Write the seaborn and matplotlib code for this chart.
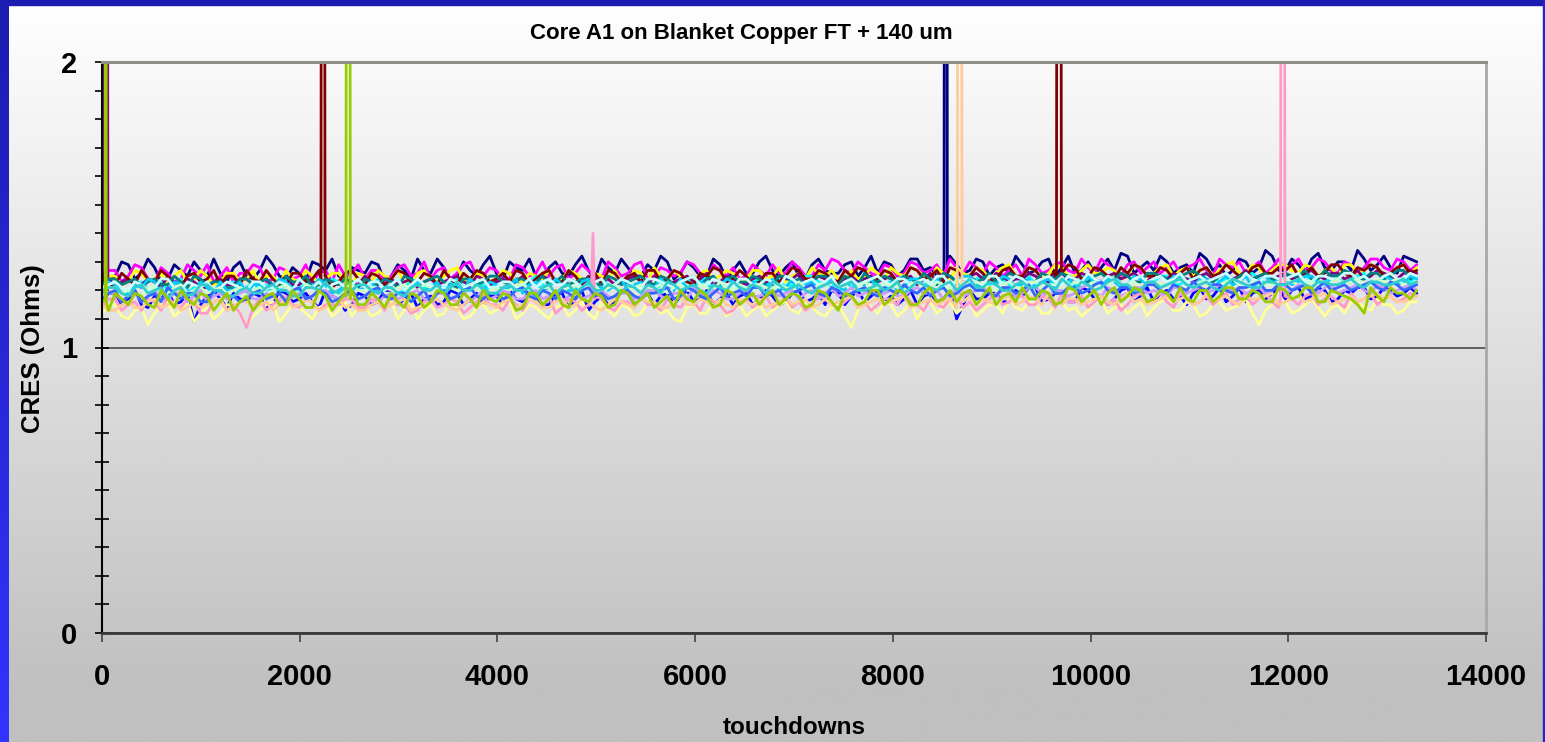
import numpy as np
import pandas as pd
import matplotlib
matplotlib.use("Agg")
import matplotlib.pyplot as plt
import seaborn as sns
from matplotlib.colors import LinearSegmentedColormap
from matplotlib.patches import Rectangle

# ---------------- data ----------------
touchdowns = list(range(0, 13301, 133))      # readings A
touchdowns_mid = list(range(66, 13300, 133))  # readings B (in between)

navy = [1.27,1.25,1.29,1.26,1.28,1.24,1.27,1.30,1.25,1.26,
        1.28,1.25,1.27,1.29,1.24,1.26,1.30,1.27,1.25,1.28,
        1.26,1.29,1.25,1.27,1.31,1.26,1.28,1.25,1.27,1.29,
        1.26,1.30,1.27,1.25,1.28,1.26,1.29,1.27,1.31,1.26,
        1.28,1.25,1.27,1.30,1.26,1.28,1.25,1.29,1.27,1.26,
        1.30,1.27,1.28,1.25,1.29,1.27,1.26,1.30,1.28,1.26,
        1.29,1.27,1.31,1.28,1.26,1.29,1.27,1.30,1.28,1.26,
        1.29,1.27,1.31,1.28,1.26,1.30,1.28,1.27,1.32,1.28,
        1.27,1.30,1.28,1.26,1.31,1.29,1.27,1.30,1.28,1.32,
        1.27,1.29,1.31,1.28,1.30,1.27,1.31,1.29,1.28,1.32,
        1.30]
navy_mid = [1.23,1.30,1.24,1.31,1.23,1.29,1.25,1.27,1.31,1.23,
            1.30,1.24,1.32,1.25,1.28,1.23,1.29,1.31,1.24,1.27,
            1.30,1.23,1.29,1.24,1.27,1.31,1.24,1.30,1.25,1.32,
            1.24,1.28,1.31,1.24,1.30,1.25,1.32,1.24,1.28,1.31,
            1.25,1.29,1.32,1.24,1.30,1.25,1.31,1.24,1.30,1.26,
            1.32,1.25,1.30,1.24,1.31,1.26,1.29,1.25,1.32,1.30,
            1.25,1.31,1.27,1.25,1.32,1.26,1.31,1.25,1.29,1.32,
            1.26,1.30,1.25,1.32,1.27,1.26,1.31,1.33,1.26,1.30,
            1.32,1.26,1.29,1.33,1.27,1.25,1.31,1.26,1.34,1.27,
            1.31,1.26,1.33,1.27,1.30,1.34,1.27,1.32,1.26,1.31]
magenta = [1.24,1.27,1.25,1.28,1.23,1.26,1.24,1.27,1.29,1.25,
           1.23,1.26,1.28,1.24,1.27,1.25,1.23,1.27,1.29,1.26,
           1.24,1.27,1.25,1.29,1.26,1.24,1.28,1.26,1.30,1.25,
           1.27,1.24,1.28,1.26,1.25,1.29,1.26,1.27,1.24,1.28,
           1.26,1.30,1.25,1.27,1.26,1.29,1.24,1.27,1.28,1.25,
           1.27,1.29,1.26,1.28,1.25,1.27,1.30,1.26,1.28,1.25,
           1.28,1.26,1.29,1.27,1.25,1.28,1.30,1.26,1.28,1.27,
           1.25,1.29,1.27,1.30,1.26,1.28,1.31,1.27,1.29,1.26,
           1.30,1.28,1.26,1.29,1.27,1.31,1.28,1.26,1.30,1.28,
           1.27,1.31,1.28,1.30,1.26,1.29,1.28,1.31,1.27,1.30,
           1.29]
magenta_mid = [1.27,1.23,1.29,1.24,1.28,1.23,1.29,1.25,1.23,1.28,
               1.26,1.29,1.23,1.28,1.24,1.29,1.26,1.23,1.25,1.29,
               1.27,1.23,1.28,1.25,1.30,1.27,1.24,1.29,1.25,1.28,
               1.24,1.29,1.25,1.30,1.28,1.24,1.29,1.25,1.30,1.25,
               1.29,1.24,1.28,1.25,1.30,1.26,1.29,1.25,1.24,1.29,
               1.25,1.26,1.30,1.25,1.29,1.31,1.27,1.30,1.26,1.29,
               1.25,1.30,1.26,1.29,1.31,1.26,1.28,1.30,1.25,1.29,
               1.31,1.26,1.29,1.27,1.31,1.26,1.29,1.25,1.30,1.28,
               1.26,1.30,1.28,1.31,1.25,1.29,1.30,1.28,1.26,1.31,
               1.29,1.27,1.31,1.27,1.30,1.26,1.31,1.28,1.31,1.27]
yellow = [1.22,1.25,1.23,1.26,1.24,1.22,1.27,1.24,1.25,1.23,
          1.26,1.24,1.22,1.25,1.27,1.23,1.25,1.24,1.26,1.22,
          1.25,1.27,1.24,1.23,1.26,1.24,1.25,1.28,1.23,1.25,
          1.24,1.26,1.23,1.25,1.27,1.24,1.26,1.23,1.25,1.27,
          1.24,1.26,1.28,1.24,1.25,1.23,1.27,1.25,1.26,1.24,
          1.27,1.25,1.23,1.26,1.28,1.25,1.24,1.27,1.25,1.26,
          1.28,1.25,1.27,1.24,1.26,1.28,1.25,1.27,1.26,1.29,
          1.25,1.27,1.26,1.28,1.25,1.29,1.26,1.27,1.25,1.28,
          1.26,1.29,1.27,1.25,1.28,1.27,1.30,1.26,1.28,1.27,
          1.29,1.26,1.28,1.27,1.25,1.29,1.27,1.28,1.26,1.29,
          1.28]
yellow_mid = [1.25,1.22,1.27,1.23,1.26,1.25,1.23,1.27,1.22,1.26,
              1.23,1.27,1.25,1.22,1.24,1.27,1.22,1.26,1.23,1.26,
              1.23,1.25,1.27,1.22,1.27,1.23,1.27,1.24,1.26,1.23,
              1.27,1.23,1.26,1.24,1.23,1.27,1.24,1.26,1.24,1.23,
              1.27,1.23,1.25,1.27,1.23,1.26,1.24,1.27,1.23,1.27,
              1.24,1.28,1.25,1.24,1.26,1.27,1.23,1.24,1.28,1.24,
              1.26,1.28,1.25,1.28,1.24,1.26,1.28,1.24,1.28,1.25,
              1.28,1.24,1.29,1.25,1.27,1.26,1.28,1.24,1.29,1.25,
              1.28,1.25,1.28,1.27,1.25,1.29,1.26,1.29,1.25,1.29,
              1.27,1.29,1.25,1.28,1.29,1.26,1.29,1.25,1.28,1.26]
cyan = [1.20,1.22,1.19,1.23,1.21,1.20,1.24,1.21,1.22,1.19,
        1.23,1.21,1.20,1.22,1.24,1.20,1.22,1.21,1.23,1.20,
        1.22,1.24,1.21,1.20,1.23,1.22,1.21,1.24,1.20,1.22,
        1.23,1.21,1.22,1.25,1.21,1.23,1.20,1.22,1.24,1.21,
        1.23,1.22,1.20,1.24,1.22,1.21,1.25,1.22,1.23,1.21,
        1.24,1.22,1.21,1.23,1.25,1.22,1.23,1.21,1.24,1.22,
        1.23,1.25,1.22,1.21,1.24,1.23,1.22,1.25,1.23,1.22,
        1.24,1.22,1.25,1.23,1.21,1.24,1.23,1.26,1.22,1.24,
        1.23,1.25,1.22,1.24,1.26,1.23,1.22,1.25,1.24,1.23,
        1.26,1.23,1.24,1.22,1.25,1.24,1.26,1.23,1.25,1.24,
        1.25]
cyan_mid = [1.23,1.19,1.22,1.20,1.23,1.22,1.19,1.23,1.20,1.22,
            1.20,1.23,1.22,1.19,1.21,1.23,1.20,1.24,1.21,1.22,
            1.20,1.22,1.19,1.24,1.21,1.20,1.23,1.21,1.23,1.20,
            1.24,1.20,1.23,1.22,1.24,1.21,1.23,1.21,1.22,1.24,
            1.21,1.24,1.22,1.21,1.24,1.23,1.21,1.24,1.22,1.23,
            1.21,1.24,1.22,1.25,1.23,1.21,1.24,1.22,1.25,1.21,
            1.24,1.22,1.24,1.23,1.25,1.21,1.24,1.22,1.24,1.21,
            1.25,1.23,1.22,1.24,1.25,1.22,1.24,1.22,1.25,1.23,
            1.25,1.22,1.24,1.23,1.25,1.24,1.23,1.26,1.22,1.25,
            1.23,1.25,1.23,1.26,1.22,1.25,1.23,1.26,1.24,1.23]
purple = [1.23,1.21,1.24,1.22,1.23,1.25,1.22,1.23,1.21,1.24,
          1.22,1.24,1.23,1.21,1.25,1.22,1.23,1.24,1.22,1.23,
          1.25,1.22,1.24,1.23,1.21,1.24,1.23,1.25,1.22,1.24,
          1.23,1.22,1.25,1.23,1.24,1.22,1.23,1.25,1.23,1.22,
          1.24,1.23,1.25,1.22,1.24,1.23,1.26,1.23,1.24,1.22,
          1.25,1.23,1.24,1.26,1.23,1.24,1.22,1.25,1.24,1.23,
          1.25,1.24,1.22,1.26,1.24,1.23,1.25,1.24,1.26,1.23,
          1.24,1.25,1.23,1.26,1.24,1.25,1.23,1.26,1.25,1.24,
          1.26,1.24,1.25,1.23,1.26,1.25,1.24,1.27,1.25,1.24,
          1.26,1.25,1.27,1.24,1.26,1.25,1.24,1.27,1.25,1.26,
          1.26]
purple_mid = [1.24,1.23,1.22,1.24,1.21,1.23,1.24,1.21,1.23,1.22,
              1.24,1.22,1.24,1.23,1.22,1.24,1.22,1.23,1.24,1.22,
              1.23,1.24,1.22,1.24,1.23,1.22,1.24,1.23,1.25,1.22,
              1.24,1.23,1.22,1.25,1.23,1.24,1.22,1.24,1.24,1.23,
              1.25,1.22,1.24,1.23,1.25,1.24,1.22,1.25,1.23,1.24,
              1.23,1.25,1.24,1.22,1.25,1.23,1.24,1.23,1.25,1.24,
              1.23,1.25,1.24,1.23,1.25,1.24,1.26,1.23,1.25,1.24,
              1.26,1.23,1.25,1.24,1.26,1.24,1.25,1.24,1.26,1.23,
              1.25,1.26,1.24,1.25,1.24,1.26,1.25,1.24,1.26,1.25,
              1.24,1.26,1.25,1.26,1.24,1.27,1.25,1.26,1.24,1.27]
darkred = [1.25,1.22,1.24,1.27,1.23,1.25,1.21,1.26,1.24,1.22,
           1.25,1.27,1.23,1.24,1.22,1.26,1.24,1.25,1.23,1.27,
           1.22,1.25,1.24,1.26,1.23,1.25,1.27,1.22,1.24,1.26,
           1.24,1.23,1.26,1.24,1.27,1.23,1.25,1.24,1.22,1.26,
           1.25,1.23,1.27,1.24,1.26,1.22,1.25,1.27,1.24,1.25,
           1.23,1.26,1.25,1.27,1.24,1.26,1.23,1.25,1.27,1.24,
           1.26,1.24,1.27,1.25,1.23,1.27,1.25,1.26,1.24,1.28,
           1.25,1.27,1.24,1.26,1.28,1.25,1.27,1.24,1.26,1.28,
           1.25,1.27,1.26,1.24,1.28,1.26,1.27,1.25,1.29,1.26,
           1.27,1.25,1.28,1.26,1.29,1.25,1.27,1.28,1.26,1.29,
           1.27]
darkred_mid = [1.21,1.26,1.22,1.24,1.27,1.21,1.25,1.23,1.27,1.25,
               1.22,1.24,1.27,1.22,1.26,1.23,1.27,1.21,1.26,1.24,
               1.26,1.22,1.27,1.23,1.26,1.22,1.24,1.26,1.27,1.23,
               1.26,1.27,1.22,1.26,1.23,1.27,1.22,1.26,1.27,1.23,
               1.26,1.27,1.23,1.27,1.23,1.26,1.28,1.23,1.27,1.22,
               1.26,1.23,1.28,1.24,1.27,1.24,1.27,1.28,1.23,1.27,
               1.23,1.28,1.24,1.27,1.28,1.24,1.28,1.23,1.27,1.25,
               1.28,1.24,1.27,1.29,1.24,1.28,1.25,1.28,1.29,1.25,
               1.28,1.24,1.28,1.27,1.25,1.29,1.25,1.28,1.26,1.28,
               1.29,1.26,1.25,1.29,1.26,1.28,1.29,1.25,1.28,1.26]
teal = [1.22,1.24,1.23,1.21,1.24,1.22,1.23,1.25,1.22,1.23,
        1.21,1.24,1.23,1.22,1.25,1.23,1.21,1.24,1.22,1.23,
        1.24,1.22,1.23,1.25,1.22,1.24,1.23,1.21,1.24,1.23,
        1.25,1.22,1.24,1.23,1.22,1.25,1.23,1.24,1.22,1.24,
        1.23,1.25,1.22,1.24,1.23,1.25,1.24,1.22,1.25,1.23,
        1.24,1.22,1.25,1.24,1.23,1.25,1.22,1.24,1.26,1.23,
        1.24,1.25,1.23,1.24,1.26,1.23,1.25,1.24,1.23,1.26,
        1.24,1.23,1.25,1.26,1.24,1.23,1.26,1.24,1.25,1.23,
        1.26,1.24,1.25,1.27,1.24,1.25,1.23,1.26,1.25,1.24,
        1.26,1.25,1.24,1.27,1.25,1.26,1.24,1.26,1.25,1.27,
        1.25]
teal_mid = [1.24,1.22,1.24,1.23,1.22,1.25,1.21,1.24,1.23,1.21,
            1.24,1.22,1.24,1.21,1.23,1.25,1.22,1.23,1.24,1.21,
            1.23,1.24,1.21,1.24,1.23,1.25,1.22,1.24,1.22,1.25,
            1.23,1.24,1.22,1.25,1.23,1.22,1.24,1.22,1.25,1.22,
            1.24,1.23,1.25,1.22,1.24,1.22,1.25,1.24,1.23,1.25,
            1.22,1.25,1.23,1.22,1.25,1.23,1.25,1.22,1.24,1.25,
            1.23,1.24,1.26,1.22,1.25,1.24,1.23,1.26,1.24,1.25,
            1.23,1.26,1.24,1.25,1.23,1.25,1.24,1.26,1.23,1.26,
            1.25,1.23,1.26,1.25,1.23,1.26,1.25,1.24,1.26,1.23,
            1.25,1.27,1.24,1.25,1.27,1.24,1.26,1.24,1.27,1.24]
blue = [1.16,1.19,1.17,1.15,1.18,1.20,1.16,1.09,1.18,1.17,
        1.19,1.16,1.18,1.15,1.19,1.17,1.16,1.20,1.17,1.15,
        1.18,1.16,1.19,1.17,1.14,1.18,1.16,1.19,1.17,1.15,
        1.18,1.20,1.16,1.18,1.15,1.19,1.17,1.13,1.18,1.16,
        1.19,1.17,1.15,1.19,1.18,1.16,1.20,1.17,1.15,1.19,
        1.17,1.18,1.16,1.20,1.17,1.15,1.19,1.18,1.16,1.20,
        1.18,1.17,1.15,1.19,1.17,1.10,1.20,1.17,1.19,1.16,
        1.18,1.21,1.17,1.19,1.16,1.20,1.18,1.17,1.21,1.18,
        1.16,1.20,1.18,1.19,1.17,1.21,1.18,1.16,1.20,1.19,
        1.17,1.21,1.18,1.20,1.17,1.19,1.21,1.18,1.20,1.19,
        1.19]
blue_mid = [1.19,1.15,1.20,1.14,1.17,1.15,1.19,1.15,1.20,1.14,
            1.17,1.19,1.14,1.20,1.16,1.19,1.14,1.18,1.13,1.19,
            1.15,1.20,1.15,1.19,1.17,1.15,1.20,1.15,1.19,1.18,
            1.15,1.17,1.20,1.15,1.19,1.14,1.20,1.16,1.15,1.20,
            1.15,1.19,1.18,1.15,1.20,1.17,1.15,1.19,1.18,1.15,
            1.20,1.15,1.19,1.16,1.19,1.20,1.15,1.20,1.18,1.16,
            1.15,1.20,1.18,1.16,1.20,1.15,1.17,1.19,1.16,1.20,
            1.21,1.16,1.19,1.16,1.21,1.17,1.15,1.20,1.16,1.21,
            1.19,1.17,1.15,1.21,1.18,1.16,1.21,1.19,1.17,1.21,
            1.20,1.17,1.21,1.16,1.20,1.21,1.17,1.21,1.18,1.21]
skyblue = [1.20,1.22,1.19,1.21,1.23,1.20,1.22,1.18,1.21,1.23,
           1.20,1.19,1.22,1.21,1.23,1.19,1.21,1.22,1.20,1.23,
           1.21,1.19,1.22,1.20,1.23,1.21,1.19,1.22,1.24,1.20,
           1.22,1.21,1.19,1.23,1.21,1.22,1.20,1.24,1.21,1.22,
           1.20,1.23,1.21,1.22,1.24,1.20,1.22,1.21,1.23,1.20,
           1.22,1.24,1.21,1.20,1.23,1.22,1.21,1.24,1.22,1.20,
           1.23,1.21,1.24,1.22,1.21,1.23,1.25,1.21,1.22,1.24,
           1.22,1.21,1.24,1.23,1.21,1.25,1.22,1.23,1.21,1.24,
           1.23,1.22,1.25,1.21,1.24,1.23,1.22,1.25,1.23,1.22,
           1.24,1.23,1.25,1.22,1.24,1.23,1.25,1.22,1.24,1.23,
           1.24]
skyblue_mid = [1.23,1.19,1.22,1.24,1.19,1.23,1.20,1.23,1.19,1.20,
               1.23,1.22,1.19,1.24,1.20,1.22,1.24,1.19,1.22,1.20,
               1.23,1.21,1.24,1.21,1.20,1.23,1.22,1.20,1.21,1.23,
               1.20,1.24,1.22,1.20,1.24,1.20,1.23,1.21,1.20,1.24,
               1.22,1.20,1.24,1.20,1.21,1.23,1.20,1.24,1.21,1.23,
               1.21,1.20,1.24,1.22,1.21,1.24,1.20,1.22,1.24,1.22,
               1.20,1.24,1.21,1.24,1.20,1.25,1.22,1.23,1.25,1.21,
               1.24,1.23,1.21,1.25,1.22,1.23,1.24,1.21,1.25,1.22,
               1.21,1.25,1.22,1.24,1.21,1.25,1.23,1.21,1.25,1.24,
               1.22,1.25,1.23,1.24,1.22,1.24,1.23,1.25,1.22,1.25]
turquoise = [1.21,1.23,1.20,1.22,1.21,1.24,1.20,1.22,1.23,1.21,
             1.22,1.20,1.23,1.21,1.22,1.24,1.21,1.20,1.23,1.22,
             1.21,1.23,1.22,1.20,1.24,1.22,1.21,1.23,1.22,1.24,
             1.21,1.23,1.22,1.21,1.24,1.22,1.23,1.21,1.24,1.22,
             1.23,1.21,1.24,1.22,1.23,1.25,1.22,1.23,1.21,1.24,
             1.22,1.23,1.25,1.22,1.24,1.23,1.21,1.24,1.23,1.25,
             1.22,1.24,1.23,1.22,1.25,1.23,1.24,1.22,1.25,1.23,
             1.24,1.23,1.25,1.22,1.24,1.26,1.23,1.24,1.22,1.25,
             1.24,1.23,1.26,1.24,1.23,1.25,1.24,1.26,1.23,1.25,
             1.24,1.26,1.23,1.25,1.24,1.26,1.25,1.23,1.26,1.24,
             1.25]
turquoise_mid = [1.22,1.21,1.23,1.20,1.24,1.21,1.23,1.21,1.20,1.23,
                 1.21,1.23,1.21,1.23,1.20,1.22,1.23,1.22,1.21,1.24,
                 1.23,1.20,1.24,1.22,1.22,1.20,1.24,1.21,1.23,1.21,
                 1.23,1.21,1.24,1.23,1.22,1.24,1.21,1.23,1.21,1.24,
                 1.21,1.24,1.23,1.21,1.24,1.22,1.24,1.22,1.24,1.22,
                 1.24,1.21,1.24,1.23,1.22,1.25,1.23,1.22,1.24,1.23,
                 1.24,1.22,1.24,1.25,1.22,1.24,1.23,1.25,1.22,1.25,
                 1.22,1.24,1.23,1.25,1.23,1.24,1.25,1.22,1.24,1.23,
                 1.25,1.24,1.23,1.25,1.24,1.26,1.23,1.24,1.25,1.24,
                 1.25,1.23,1.25,1.24,1.26,1.24,1.23,1.25,1.24,1.26]
lightgreen = [1.19,1.21,1.20,1.18,1.21,1.19,1.22,1.20,1.19,1.21,
              1.20,1.18,1.21,1.20,1.22,1.19,1.21,1.20,1.18,1.22,
              1.20,1.21,1.19,1.22,1.20,1.21,1.19,1.20,1.22,1.19,
              1.21,1.20,1.22,1.19,1.21,1.20,1.22,1.21,1.19,1.22,
              1.20,1.22,1.21,1.19,1.22,1.20,1.21,1.23,1.20,1.21,
              1.22,1.20,1.21,1.23,1.20,1.22,1.21,1.20,1.23,1.21,
              1.22,1.20,1.23,1.21,1.22,1.24,1.21,1.22,1.20,1.23,
              1.21,1.23,1.22,1.20,1.23,1.22,1.21,1.24,1.22,1.21,
              1.23,1.22,1.24,1.21,1.23,1.22,1.24,1.21,1.23,1.22,
              1.24,1.22,1.23,1.21,1.24,1.23,1.22,1.24,1.23,1.22,
              1.23]
lightgreen_mid = [1.21,1.19,1.18,1.21,1.20,1.21,1.19,1.21,1.20,1.19,
                  1.21,1.20,1.19,1.21,1.20,1.22,1.19,1.21,1.20,1.20,
                  1.21,1.19,1.21,1.20,1.22,1.20,1.21,1.19,1.21,1.20,
                  1.20,1.22,1.20,1.21,1.19,1.21,1.20,1.22,1.21,1.20,
                  1.21,1.20,1.22,1.21,1.20,1.22,1.20,1.21,1.22,1.20,
                  1.21,1.22,1.20,1.21,1.22,1.20,1.22,1.21,1.21,1.22,
                  1.21,1.22,1.21,1.23,1.20,1.22,1.23,1.21,1.22,1.21,
                  1.23,1.21,1.22,1.21,1.22,1.23,1.21,1.22,1.23,1.22,
                  1.22,1.23,1.22,1.23,1.21,1.23,1.22,1.23,1.22,1.23,
                  1.23,1.22,1.22,1.23,1.22,1.24,1.22,1.23,1.24,1.22]
lightyellow = [1.12,1.15,1.10,1.14,1.12,1.16,1.13,1.09,1.14,1.12,
               1.15,1.08,1.13,1.16,1.12,1.14,1.10,1.15,1.13,1.11,
               1.14,1.12,1.16,1.13,1.10,1.15,1.12,1.14,1.11,1.15,
               1.13,1.16,1.12,1.14,1.10,1.15,1.13,1.12,1.16,1.11,
               1.14,1.12,1.15,1.13,1.09,1.15,1.12,1.16,1.13,1.11,
               1.15,1.13,1.16,1.12,1.14,1.11,1.15,1.07,1.17,1.12,
               1.15,1.13,1.10,1.16,1.14,1.12,1.16,1.13,1.15,1.17,
               1.13,1.15,1.12,1.16,1.14,1.13,1.17,1.14,1.12,1.16,
               1.14,1.17,1.13,1.15,1.12,1.16,1.14,1.17,1.08,1.15,
               1.16,1.13,1.17,1.11,1.15,1.16,1.14,1.17,1.15,1.13,
               1.16]
lightyellow_mid = [1.15,1.11,1.13,1.08,1.15,1.11,1.16,1.12,1.10,1.15,
                   1.12,1.11,1.15,1.09,1.15,1.12,1.14,1.11,1.16,1.14,
                   1.11,1.15,1.10,1.16,1.13,1.11,1.16,1.10,1.14,1.12,
                   1.15,1.10,1.15,1.12,1.14,1.11,1.16,1.10,1.13,1.15,
                   1.11,1.16,1.12,1.10,1.14,1.12,1.16,1.11,1.15,1.13,
                   1.11,1.15,1.13,1.16,1.12,1.14,1.11,1.13,1.14,1.16,
                   1.11,1.16,1.14,1.12,1.16,1.14,1.11,1.15,1.12,1.14,
                   1.16,1.12,1.15,1.13,1.11,1.16,1.12,1.15,1.14,1.11,
                   1.16,1.13,1.16,1.11,1.15,1.13,1.15,1.12,1.13,1.16,
                   1.12,1.15,1.14,1.14,1.12,1.16,1.13,1.15,1.12,1.16]
rose = [1.14,1.17,1.15,1.13,1.16,1.18,1.14,1.16,1.12,1.17,
        1.15,1.07,1.17,1.15,1.18,1.14,1.16,1.15,1.15,1.17,
        1.14,1.16,1.18,1.15,1.13,1.17,1.15,1.16,1.14,1.18,
        1.15,1.17,1.13,1.16,1.18,1.14,1.16,1.15,1.17,1.13,
        1.16,1.18,1.15,1.17,1.14,1.16,1.18,1.15,1.13,1.17,
        1.16,1.14,1.18,1.16,1.15,1.17,1.14,1.18,1.16,1.15,
        1.17,1.19,1.15,1.17,1.14,1.18,1.16,1.15,1.19,1.16,
        1.18,1.15,1.17,1.19,1.16,1.14,1.18,1.17,1.15,1.19,
        1.17,1.16,1.19,1.15,1.18,1.17,1.15,1.19,1.17,1.16,
        1.18,1.15,1.19,1.17,1.16,1.19,1.17,1.15,1.18,1.17,
        1.18]
rose_mid = [1.17,1.13,1.16,1.17,1.13,1.15,1.17,1.12,1.16,1.13,
            1.12,1.14,1.13,1.17,1.15,1.17,1.13,1.15,1.17,1.14,
            1.17,1.13,1.15,1.12,1.16,1.14,1.17,1.12,1.16,1.15,
            1.13,1.15,1.17,1.14,1.12,1.17,1.13,1.18,1.14,1.16,
            1.14,1.15,1.13,1.15,1.17,1.13,1.16,1.12,1.16,1.14,
            1.18,1.16,1.14,1.13,1.18,1.15,1.16,1.14,1.13,1.17,
            1.15,1.16,1.13,1.15,1.17,1.14,1.13,1.17,1.15,1.18,
            1.15,1.18,1.14,1.16,1.18,1.16,1.15,1.13,1.18,1.16,
            1.19,1.14,1.17,1.16,1.15,1.19,1.17,1.15,1.19,1.14,
            1.17,1.18,1.15,1.18,1.14,1.16,1.19,1.17,1.16,1.19]
lavender = [1.17,1.19,1.18,1.16,1.20,1.17,1.19,1.18,1.16,1.19,
            1.18,1.20,1.17,1.18,1.16,1.19,1.18,1.20,1.17,1.19,
            1.18,1.16,1.19,1.18,1.20,1.17,1.19,1.18,1.16,1.20,
            1.18,1.19,1.17,1.20,1.18,1.16,1.19,1.18,1.20,1.17,
            1.19,1.18,1.20,1.17,1.19,1.21,1.18,1.19,1.17,1.20,
            1.18,1.20,1.19,1.17,1.20,1.19,1.18,1.21,1.19,1.18,
            1.20,1.18,1.21,1.19,1.17,1.20,1.19,1.21,1.18,1.20,
            1.19,1.21,1.18,1.20,1.19,1.22,1.18,1.20,1.19,1.21,
            1.20,1.18,1.21,1.20,1.19,1.22,1.20,1.19,1.21,1.20,
            1.19,1.22,1.20,1.21,1.19,1.21,1.20,1.22,1.19,1.21,
            1.20]
lavender_mid = [1.19,1.16,1.19,1.18,1.17,1.19,1.16,1.20,1.18,1.17,
                1.19,1.17,1.19,1.16,1.18,1.17,1.20,1.18,1.18,1.17,
                1.20,1.18,1.17,1.19,1.17,1.19,1.17,1.20,1.18,1.17,
                1.20,1.17,1.19,1.17,1.20,1.18,1.17,1.19,1.18,1.19,
                1.17,1.20,1.18,1.19,1.17,1.19,1.20,1.17,1.19,1.18,
                1.19,1.18,1.20,1.19,1.17,1.21,1.19,1.18,1.20,1.19,
                1.18,1.20,1.19,1.20,1.19,1.18,1.20,1.19,1.20,1.18,
                1.21,1.19,1.20,1.18,1.21,1.19,1.21,1.18,1.21,1.19,
                1.19,1.21,1.19,1.21,1.20,1.20,1.21,1.20,1.19,1.22,
                1.20,1.21,1.19,1.22,1.20,1.22,1.19,1.21,1.20,1.22]
tan = [1.15,1.13,1.16,1.14,1.17,1.15,1.13,1.16,1.15,1.17,
       1.14,1.16,1.15,1.13,1.17,1.15,1.16,1.14,1.17,1.15,
       1.13,1.16,1.15,1.17,1.14,1.16,1.15,1.13,1.17,1.16,
       1.14,1.17,1.15,1.16,1.14,1.17,1.15,1.16,1.13,1.17,
       1.15,1.17,1.16,1.14,1.18,1.15,1.16,1.17,1.14,1.16,
       1.17,1.15,1.18,1.16,1.14,1.17,1.16,1.18,1.15,1.17,
       1.16,1.18,1.15,1.17,1.16,1.14,1.18,1.17,1.15,1.18,
       1.16,1.17,1.19,1.15,1.17,1.16,1.18,1.15,1.19,1.17,
       1.16,1.18,1.17,1.15,1.19,1.17,1.16,1.18,1.17,1.19,
       1.16,1.18,1.17,1.19,1.16,1.18,1.17,1.19,1.18,1.16,
       1.18]
tan_mid = [1.13,1.15,1.14,1.16,1.14,1.16,1.14,1.14,1.16,1.13,
           1.16,1.14,1.16,1.15,1.14,1.17,1.13,1.16,1.14,1.13,
           1.15,1.14,1.16,1.13,1.15,1.17,1.14,1.15,1.14,1.15,
           1.16,1.14,1.17,1.14,1.16,1.14,1.17,1.14,1.15,1.16,
           1.14,1.16,1.14,1.16,1.15,1.17,1.14,1.15,1.17,1.15,
           1.14,1.16,1.15,1.17,1.15,1.15,1.17,1.14,1.16,1.15,
           1.17,1.14,1.16,1.15,1.17,1.16,1.15,1.16,1.17,1.15,
           1.18,1.15,1.16,1.17,1.15,1.17,1.16,1.17,1.16,1.15,
           1.17,1.16,1.18,1.16,1.16,1.18,1.15,1.17,1.18,1.15,
           1.17,1.16,1.18,1.15,1.17,1.16,1.18,1.17,1.16,1.17]
lightblue = [1.17,1.20,1.18,1.16,1.19,1.21,1.17,1.19,1.16,1.20,
             1.18,1.17,1.20,1.18,1.16,1.21,1.18,1.19,1.17,1.20,
             1.18,1.21,1.17,1.19,1.18,1.16,1.20,1.18,1.21,1.17,
             1.19,1.18,1.21,1.17,1.19,1.20,1.17,1.21,1.19,1.18,
             1.20,1.17,1.19,1.21,1.18,1.20,1.17,1.21,1.19,1.18,
             1.21,1.19,1.17,1.20,1.22,1.18,1.20,1.19,1.21,1.18,
             1.20,1.22,1.19,1.18,1.21,1.19,1.22,1.20,1.18,1.21,
             1.20,1.18,1.22,1.19,1.21,1.20,1.23,1.19,1.21,1.20,
             1.22,1.19,1.21,1.23,1.20,1.22,1.19,1.21,1.23,1.20,
             1.22,1.21,1.19,1.23,1.21,1.20,1.22,1.21,1.23,1.20,
             1.22]
lightblue_mid = [1.19,1.16,1.20,1.18,1.16,1.19,1.19,1.16,1.20,1.18,
                 1.16,1.19,1.17,1.19,1.20,1.17,1.20,1.16,1.19,1.17,
                 1.20,1.18,1.19,1.16,1.20,1.19,1.17,1.20,1.18,1.19,
                 1.17,1.20,1.18,1.20,1.17,1.19,1.20,1.18,1.17,1.20,
                 1.18,1.19,1.20,1.17,1.21,1.18,1.19,1.18,1.20,1.21,
                 1.18,1.20,1.19,1.21,1.19,1.21,1.18,1.20,1.19,1.21,
                 1.19,1.20,1.21,1.20,1.18,1.21,1.20,1.19,1.21,1.19,
                 1.22,1.20,1.19,1.21,1.19,1.22,1.20,1.21,1.19,1.22,
                 1.20,1.22,1.20,1.21,1.22,1.20,1.21,1.22,1.20,1.22,
                 1.20,1.22,1.21,1.20,1.22,1.21,1.23,1.20,1.22,1.21]
aqua = [1.19,1.21,1.18,1.22,1.20,1.17,1.21,1.19,1.22,1.20,
        1.18,1.21,1.19,1.22,1.20,1.18,1.21,1.23,1.19,1.20,
        1.22,1.19,1.21,1.18,1.22,1.20,1.19,1.23,1.20,1.21,
        1.19,1.22,1.20,1.18,1.22,1.21,1.19,1.23,1.20,1.21,
        1.22,1.19,1.21,1.23,1.20,1.22,1.19,1.21,1.23,1.20,
        1.21,1.23,1.20,1.22,1.19,1.22,1.21,1.23,1.20,1.22,
        1.21,1.19,1.23,1.21,1.22,1.20,1.24,1.21,1.22,1.20,
        1.23,1.21,1.22,1.24,1.20,1.22,1.21,1.24,1.22,1.20,
        1.23,1.22,1.24,1.21,1.23,1.20,1.24,1.22,1.21,1.23,
        1.22,1.24,1.21,1.23,1.22,1.24,1.21,1.23,1.22,1.24,
        1.23]
aqua_mid = [1.21,1.19,1.21,1.19,1.21,1.20,1.18,1.22,1.20,1.18,
            1.20,1.19,1.21,1.20,1.18,1.21,1.20,1.20,1.21,1.22,
            1.20,1.21,1.19,1.21,1.20,1.22,1.21,1.20,1.22,1.19,
            1.21,1.20,1.21,1.21,1.19,1.22,1.21,1.20,1.22,1.19,
            1.21,1.22,1.19,1.22,1.21,1.20,1.22,1.20,1.21,1.22,
            1.19,1.22,1.21,1.20,1.21,1.23,1.22,1.20,1.21,1.20,
            1.23,1.21,1.22,1.20,1.23,1.22,1.21,1.23,1.20,1.22,
            1.21,1.23,1.20,1.22,1.23,1.20,1.23,1.22,1.20,1.23,
            1.21,1.23,1.22,1.22,1.21,1.22,1.23,1.21,1.23,1.22,
            1.23,1.22,1.23,1.22,1.23,1.22,1.23,1.22,1.23,1.22]
lime = [1.16,1.19,1.15,1.18,1.14,1.17,1.20,1.15,1.18,1.16,
        1.13,1.18,1.16,1.19,1.15,1.17,1.14,1.18,1.16,1.20,
        1.15,1.17,1.19,1.14,1.18,1.16,1.19,1.15,1.17,1.20,
        1.16,1.18,1.14,1.19,1.17,1.15,1.20,1.16,1.18,1.15,
        1.19,1.17,1.14,1.18,1.20,1.16,1.18,1.15,1.19,1.17,
        1.15,1.20,1.17,1.18,1.15,1.19,1.13,1.18,1.16,1.20,
        1.17,1.19,1.15,1.21,1.17,1.16,1.20,1.18,1.15,1.19,
        1.21,1.17,1.19,1.16,1.20,1.18,1.15,1.21,1.18,1.20,
        1.17,1.19,1.21,1.16,1.20,1.18,1.21,1.17,1.19,1.16,
        1.20,1.18,1.21,1.16,1.19,1.17,1.12,1.18,1.21,1.19,
        1.20]
lime_mid = [1.13,1.17,1.19,1.15,1.20,1.14,1.17,1.19,1.13,1.19,
            1.16,1.13,1.18,1.15,1.20,1.14,1.20,1.13,1.19,1.15,
            1.19,1.14,1.16,1.19,1.14,1.20,1.15,1.19,1.14,1.17,
            1.19,1.13,1.19,1.15,1.20,1.14,1.17,1.19,1.14,1.20,
            1.15,1.19,1.16,1.14,1.17,1.20,1.14,1.20,1.15,1.19,
            1.18,1.15,1.19,1.14,1.20,1.16,1.19,1.15,1.20,1.15,
            1.20,1.15,1.19,1.16,1.20,1.19,1.15,1.21,1.18,1.16,
            1.17,1.20,1.15,1.21,1.16,1.20,1.19,1.16,1.21,1.16,
            1.20,1.16,1.17,1.20,1.16,1.21,1.17,1.20,1.16,1.21,
            1.17,1.21,1.16,1.20,1.18,1.15,1.21,1.16,1.19,1.17]

series_names = ["navy", "magenta", "yellow", "cyan", "purple", "darkred", "teal",
                "blue", "skyblue", "turquoise", "lightgreen", "lightyellow",
                "rose", "lavender", "tan", "lightblue", "aqua", "lime"]
series_values = [navy, magenta, yellow, cyan, purple, darkred, teal,
                 blue, skyblue, turquoise, lightgreen, lightyellow,
                 rose, lavender, tan, lightblue, aqua, lime]
series_values_mid = [navy_mid, magenta_mid, yellow_mid, cyan_mid, purple_mid, darkred_mid, teal_mid,
                     blue_mid, skyblue_mid, turquoise_mid, lightgreen_mid, lightyellow_mid,
                     rose_mid, lavender_mid, tan_mid, lightblue_mid, aqua_mid, lime_mid]
series_colors = ["#000080", "#ff00ff", "#ffff00", "#00ffff", "#800080", "#800000", "#008080",
                 "#0000ff", "#00ccff", "#ccffff", "#ccffcc", "#ffff99",
                 "#ff99cc", "#cc99ff", "#ffcc99", "#3366ff", "#33cccc", "#99cc00"]

# off-scale readings (spikes), three readings each
spike_series = ["purple", "lime", "darkred", "lime", "rose", "navy", "tan", "darkred", "rose"]
spike_x = [(5, 35, 60), (33, 38, 43), (2215, 2235, 2256), (2468, 2490, 2512),
           (4947, 4967, 4982), (8518, 8535, 8551), (8652, 8676, 8700),
           (9655, 9680, 9705), (11922, 11945, 11966)]
spike_y = [(1.22, 10, 1.23), (1.17, 10, 1.16), (1.24, 10, 1.25), (1.18, 10, 1.17),
           (1.16, 1.40, 1.17), (1.28, 10, 1.29), (1.16, 10, 1.17),
           (1.25, 10, 1.26), (1.17, 10, 1.18)]

title_text = "Core A1 on Blanket Copper FT + 140 um"
x_label = "touchdowns"
y_label = "CRES (Ohms)"

# ---------------- build table ----------------
rows = []
for name, vals, vals_mid in zip(series_names, series_values, series_values_mid, strict=True):
    for x, y in zip(touchdowns, vals, strict=True):
        rows.append((name, x, y))
    for x, y in zip(touchdowns_mid, vals_mid, strict=True):
        rows.append((name, x, y))
for name, xs, ys in zip(spike_series, spike_x, spike_y, strict=True):
    for x, y in zip(xs, ys, strict=True):
        rows.append((name, x, y))
df = pd.DataFrame(rows, columns=["series", "touchdowns", "cres"])

# ---------------- figure ----------------
sns.set_style("white")
plt.rcParams["font.family"] = ["Liberation Sans", "DejaVu Sans"]
plt.rcParams["font.weight"] = "bold"
plt.rcParams["text.color"] = "black"
plt.rcParams["axes.labelcolor"] = "black"
plt.rcParams["xtick.color"] = "black"
plt.rcParams["ytick.color"] = "black"

W, H = 1545, 742
fig = plt.figure(figsize=(W / 100, H / 100), dpi=100)

# gradient background
bg = fig.add_axes([0, 0, 1, 1], zorder=-10)
grad = np.clip(np.linspace(0, 1.07, 400), 0, 1)[:, None]
cm = LinearSegmentedColormap.from_list("g", ["#ffffff", "#c0c0c0"])
bg.imshow(grad, aspect="auto", cmap=cm, extent=[0, 1, 0, 1], origin="upper", vmin=0, vmax=1)
bg.set_axis_off()

# blue frame
lb = fig.add_axes([0, 0, 9 / W, 1], zorder=-5)
cmb = LinearSegmentedColormap.from_list("b", ["#1c1cb0", "#3333ff"])
lb.imshow(np.linspace(0, 1, 200)[:, None], aspect="auto", cmap=cmb, extent=[0, 1, 0, 1], origin="upper")
lb.set_axis_off()
fig.add_artist(Rectangle((0, 1 - 5 / H), 1, 5 / H, transform=fig.transFigure, color="#1c1cb0", zorder=5))
fig.add_artist(Rectangle((1 - 2 / W, 0), 2 / W, 1, transform=fig.transFigure, color="#2424c8", zorder=5))

ax = fig.add_axes([102 / W, 109 / H, 1384 / W, 571 / H], zorder=1)
ax.patch.set_alpha(0)

sns.lineplot(data=df, x="touchdowns", y="cres", hue="series", hue_order=series_names,
             palette=dict(zip(series_names, series_colors)), estimator=None, sort=True,
             legend=False, linewidth=2.0, ax=ax)

ax.set_xlim(0, 14000)
ax.set_ylim(0, 2)
ax.set_xticks(range(0, 14001, 2000))
ax.set_yticks([0, 1, 2])
ax.set_yticks(np.arange(0, 2.001, 0.1), minor=True)
ax.set_yticklabels(["0", "1", "2"])

ax.tick_params(axis="y", which="both", direction="inout", length=9.5, width=1.2,
               color="black", labelcolor="black", labelsize=21, pad=13, left=True)
ax.tick_params(axis="x", which="both", direction="out", length=6.5, width=1.2,
               color="#404040", labelcolor="black", labelsize=21, pad=15, bottom=True)
for lab in ax.get_xticklabels() + ax.get_yticklabels():
    lab.set_fontweight("bold")

ax.grid(False)
ax.yaxis.grid(True, which="major", color="#3c3c3c", linewidth=1.1)
ax.set_axisbelow(True)

ax.spines["left"].set_color("black")
ax.spines["left"].set_linewidth(1.5)
ax.spines["bottom"].set_color("#3a3a3a")
ax.spines["bottom"].set_linewidth(2)
ax.spines["top"].set_color("#8f9188")
ax.spines["top"].set_linewidth(2.2)
ax.spines["right"].set_color("#a8a8a8")
ax.spines["right"].set_linewidth(2)
for s in ax.spines.values():
    s.set_visible(True)
    s.set_zorder(3)

ax.set_xlabel(x_label, fontsize=17.5, fontweight="bold", color="black")
ax.xaxis.label.set_va("center")
ax.xaxis.set_label_coords(0.5, (633 - 727) / 571)
ax.set_ylabel(y_label, fontsize=18.5, fontweight="bold", color="black")
ax.yaxis.label.set_va("center")
ax.yaxis.set_label_coords((33 - 102) / 1384, (633 - 349) / 571)

fig.text(741.5 / W, 1 - 34 / H, title_text, ha="center", va="center",
         fontsize=16, fontweight="bold", color="black")

fig.savefig("out.png", dpi=100)
